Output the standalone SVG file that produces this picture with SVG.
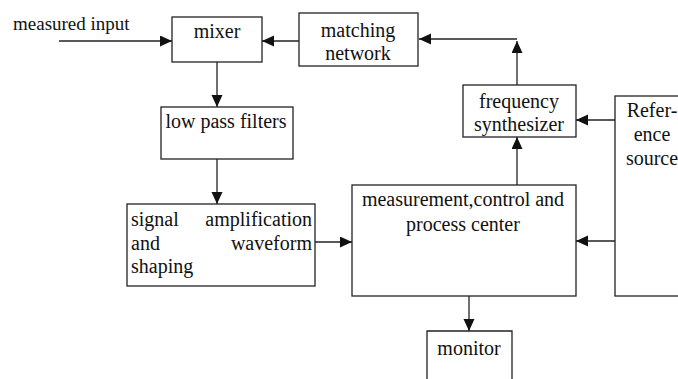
<svg xmlns="http://www.w3.org/2000/svg" width="678" height="379" viewBox="0 0 678 379">
  <style>
    .box { fill: #ffffff; stroke: #222222; stroke-width: 1.3; }
    .lbl { font-family: "Liberation Serif", "Times New Roman", serif; font-size: 20px; fill: #111111; }
    .mid { text-anchor: middle; }
    .end { text-anchor: end; }
    .wire { fill: none; stroke: #222222; stroke-width: 1.3; }
  </style>
  <defs>
    <marker id="ah" markerUnits="userSpaceOnUse" markerWidth="13" markerHeight="12" refX="12" refY="5.5" orient="auto">
      <path d="M0,0 L12,5.5 L0,11 z" fill="#111111"/>
    </marker>
  </defs>

  <rect width="678" height="379" fill="#ffffff"/>

  <!-- free-standing input label -->
  <text class="lbl" x="13" y="30" style="font-size:19px">measured input</text>

  <g id="mixer">
    <rect class="box" x="172" y="17" width="90" height="45"/>
    <text class="lbl mid" x="217" y="38">mixer</text>
  </g>

  <g id="matching-network">
    <rect class="box" x="299" y="13" width="119" height="53"/>
    <text class="lbl mid" x="358" y="37">matching</text>
    <text class="lbl mid" x="358" y="60">network</text>
  </g>

  <g id="low-pass-filters">
    <rect class="box" x="161" y="107" width="132" height="52"/>
    <text class="lbl mid" x="226" y="128">low pass filters</text>
  </g>

  <g id="signal-shaping">
    <rect class="box" x="127" y="204" width="188" height="82"/>
    <text class="lbl" x="131" y="226">signal</text>
    <text class="lbl end" x="312" y="226">amplification</text>
    <text class="lbl" x="131" y="250">and</text>
    <text class="lbl end" x="312" y="250">waveform</text>
    <text class="lbl" x="131" y="273">shaping</text>
  </g>

  <g id="frequency-synthesizer">
    <rect class="box" x="463" y="85" width="113" height="52"/>
    <text class="lbl mid" x="519" y="108">frequency</text>
    <text class="lbl mid" x="519" y="131">synthesizer</text>
  </g>

  <g id="control-center">
    <rect class="box" x="352" y="185" width="224" height="111"/>
    <text class="lbl mid" x="463" y="206">measurement,control and</text>
    <text class="lbl mid" x="463" y="231">process center</text>
  </g>

  <g id="reference-source">
    <rect class="box" x="615" y="96" width="80" height="200"/>
    <text class="lbl mid" x="652" y="117">Refer-</text>
    <text class="lbl mid" x="652" y="141">ence</text>
    <text class="lbl mid" x="652" y="165">source</text>
  </g>

  <g id="monitor">
    <path class="box" d="M427,380 V331 H512 V380"/>
    <text class="lbl mid" x="469" y="355">monitor</text>
  </g>

  <g id="connectors">
    <path class="wire" d="M59,41 H172" marker-end="url(#ah)"/>
    <path class="wire" d="M299,41 H262" marker-end="url(#ah)"/>
    <path class="wire" d="M217,62 V107" marker-end="url(#ah)"/>
    <path class="wire" d="M217,159 V204" marker-end="url(#ah)"/>
    <path class="wire" d="M315,242 H352" marker-end="url(#ah)"/>
    <path class="wire" d="M517,185 V137" marker-end="url(#ah)"/>
    <path class="wire" d="M517,85 V41" marker-end="url(#ah)"/>
    <path class="wire" d="M517,39 H419" marker-end="url(#ah)"/>
    <path class="wire" d="M615,120 H576" marker-end="url(#ah)"/>
    <path class="wire" d="M615,241 H576" marker-end="url(#ah)"/>
    <path class="wire" d="M469,296 V331" marker-end="url(#ah)"/>
  </g>
</svg>
